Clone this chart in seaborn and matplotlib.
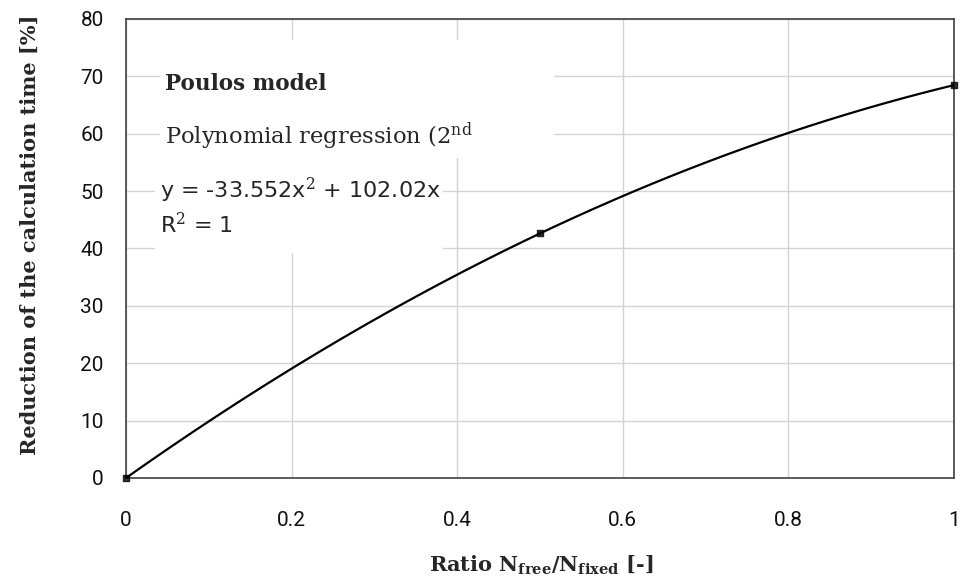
import matplotlib
matplotlib.use("Agg")
import matplotlib.pyplot as plt
from matplotlib.patches import Rectangle
import seaborn as sns
import numpy as np
import pandas as pd

# Data
ratio = [0.0, 0.5, 1.0]
reduction = [0.0, 42.62, 68.47]
x_ticks = [0, 0.2, 0.4, 0.6, 0.8, 1]
x_tick_labels = ["0", "0.2", "0.4", "0.6", "0.8", "1"]
y_ticks = [0, 10, 20, 30, 40, 50, 60, 70, 80]

df = pd.DataFrame({"ratio": ratio, "reduction": reduction})

sns.set_theme(style="white")
plt.rcParams["font.family"] = ["Roboto", "DejaVu Sans"]
plt.rcParams["mathtext.fontset"] = "dejavuserif"

fig = plt.figure(figsize=(9.64, 5.82), dpi=100)
ax = fig.add_axes([0.1307, 0.1787, 0.8589, 0.7887])

sns.regplot(data=df, x="ratio", y="reduction", order=2, ci=None, ax=ax,
            marker="s", color="black",
            scatter_kws=dict(s=22, zorder=5, clip_on=False),
            line_kws=dict(lw=1.6, color="black", zorder=4))

ax.set_xlim(0, 1)
ax.set_ylim(0, 80)
ax.set_xticks(x_ticks)
ax.set_xticklabels(x_tick_labels)
ax.set_yticks(y_ticks)
ax.tick_params(axis="both", length=0, labelsize=15, colors="#111111")
ax.tick_params(axis="x", pad=24)
ax.tick_params(axis="y", pad=16)
ax.grid(True, color="#d4d4d4", lw=1.0)
ax.set_axisbelow(True)
for s in ax.spines.values():
    s.set_visible(True)
    s.set_color("#404040")
    s.set_linewidth(1.2)

# white text-box backgrounds (hide gridlines behind the annotations)
ax.add_patch(Rectangle((0.041, 0.697), 0.476, 0.257, transform=ax.transAxes,
                       facecolor="white", edgecolor="none", zorder=1.5))
ax.add_patch(Rectangle((0.035, 0.490), 0.348, 0.207, transform=ax.transAxes,
                       facecolor="white", edgecolor="none", zorder=1.5))

ax.set_xlabel(r"Ratio N$_{\mathbf{free}}$/N$_{\mathbf{fixed}}$ [-]", family="DejaVu Serif",
              fontweight="bold", fontsize=15)
ax.set_ylabel("Reduction of the calculation time [%]", family="DejaVu Serif",
              fontweight="bold", fontsize=15)
ax.yaxis.set_label_coords(-0.104, 0.529)
ax.xaxis.set_label_coords(0.502, -0.165)

ax.text(0.047, 0.858, "Poulos model", transform=ax.transAxes, family="DejaVu Serif",
        fontweight="bold", fontsize=15.5, va="center", ha="left", zorder=3)
ax.text(0.047, 0.745, r"Polynomial regression (2$^{\mathrm{nd}}$", transform=ax.transAxes,
        family="DejaVu Serif", fontsize=16.3, va="center", ha="left", zorder=3)
ax.text(0.041, 0.627, r"y = -33.552x$^{2}$ + 102.02x", transform=ax.transAxes,
        family="DejaVu Sans", fontsize=16, va="center", ha="left", zorder=3)
ax.text(0.041, 0.551, r"R$^{2}$ = 1", transform=ax.transAxes,
        family="DejaVu Sans", fontsize=16, va="center", ha="left", zorder=3)

fig.savefig("out.png", dpi=100)
